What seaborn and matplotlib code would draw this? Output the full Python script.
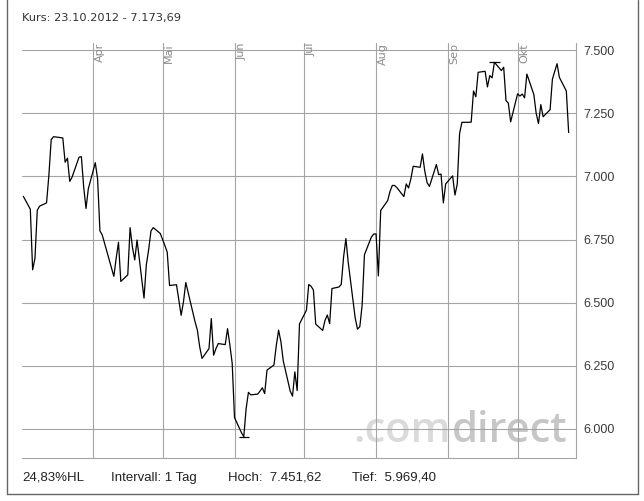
import pandas as pd
import seaborn as sns
import matplotlib.pyplot as plt
from matplotlib.lines import Line2D
from matplotlib.ticker import FuncFormatter

maerz = [6921, 6870, 6630, 6675, 6866, 6882, 6895, 7004, 7146, 7157, 7156,
         7152, 7056, 7072, 6980, 6997, 7076, 7078, 6958, 6873, 6951]
april = [7054, 6990, 6784, 6768, 6604, 6676, 6739, 6584, 6610, 6797, 6720,
         6669, 6748, 6518, 6650, 6710, 6784, 6797, 6774]
mai = [6726, 6700, 6568, 6571, 6509, 6450, 6503, 6580, 6463, 6424, 6391,
       6325, 6279, 6318, 6437, 6292, 6318, 6338, 6334, 6397, 6332, 6260]
juni = [6045, 5985, 5969.40, 6080, 6145, 6135, 6138, 6150, 6163, 6140, 6233,
        6253, 6330, 6391, 6345, 6270, 6150, 6130, 6226, 6152, 6416]
juli = [6470, 6572, 6565, 6550, 6415, 6390, 6430, 6451, 6417, 6556, 6562,
        6572, 6680, 6754, 6660, 6440, 6395, 6405, 6490, 6690, 6760, 6772]
august = [6772, 6606, 6865, 6904, 6940, 6964, 6964, 6955, 6920, 6970, 6954,
          6990, 7040, 7036, 7089, 7020, 6975, 6960, 7047, 7007, 7009, 6895, 6970]
september = [7002, 6926, 6970, 7170, 7214, 7214, 7215, 7338, 7315, 7412,
             7416, 7354, 7399, 7390, 7451.62, 7419, 7432, 7300, 7290, 7216]
oktober = [7327, 7318, 7326, 7311, 7405, 7324, 7250, 7209, 7284, 7236,
           7264, 7385, 7415, 7446, 7392, 7338, 7173.69]

feiertage = ["2012-04-06", "2012-04-09", "2012-05-01"]
handelstage = pd.bdate_range("2012-03-02", "2012-10-23").drop(pd.to_datetime(feiertage))
kurse = maerz + april + mai + juni + juli + august + september + oktober

monate = ["Apr", "Mai", "Jun", "Jul", "Aug", "Sep", "Okt"]
monatsanfang = pd.date_range("2012-04-01", periods=len(monate), freq="MS")
y_ticks = [6000, 6250, 6500, 6750, 7000, 7250, 7500]

df = pd.DataFrame({"Datum": handelstage, "Kurs": kurse})


def de(v, nd=2):
    s = f"{v:,.{nd}f}"
    return s.replace(",", "X").replace(".", ",").replace("X", ".")


sns.set_style("white")
plt.rcParams["font.family"] = ["DejaVu Sans"]

W, H = 644, 501
fig = plt.figure(figsize=(W / 100, H / 100), dpi=100)
ax = fig.add_axes([22 / W, 1 - 458 / H, (576 - 22) / W, (458 - 43) / H])

grau = "#a4a4a4"
sns.lineplot(data=df, x="Datum", y="Kurs", color="black", lw=0.9, ax=ax, zorder=3)

# Hoch / Tief Markierung
i_max = df["Kurs"].idxmax()
i_min = df["Kurs"].idxmin()
for i in (i_max, i_min):
    d = df.loc[i, "Datum"]
    ax.hlines(df.loc[i, "Kurs"], d - pd.Timedelta(days=2.2), d + pd.Timedelta(days=2.2),
              color="black", lw=0.9, zorder=3)

ax.set_xlim(pd.Timestamp("2012-03-01 10:00"), pd.Timestamp("2012-10-26 04:00"))
ax.set_ylim(5885, 7528)
ax.set_xticks(monatsanfang)
ax.set_xticklabels([])
ax.set_yticks(y_ticks)
ax.yaxis.tick_right()
ax.yaxis.set_major_formatter(FuncFormatter(lambda v, p: de(v, 3).split(",")[0]))
ax.tick_params(axis="both", length=0)
ax.tick_params(axis="y", pad=5, labelsize=9, labelcolor="#3a3a3a")
for lab in ax.get_yticklabels():
    lab.set_fontfamily("Liberation Sans")
ax.set_xlabel("")
ax.set_ylabel("")
ax.grid(True, color=grau, lw=0.8)
ax.set_axisbelow(True)
for side in ["left", "top"]:
    ax.spines[side].set_visible(False)
for side in ["right", "bottom"]:
    ax.spines[side].set_color(grau)
    ax.spines[side].set_linewidth(0.8)

for m, lab in zip(monatsanfang, monate):
    ax.annotate(lab, xy=(m, 1), xycoords=("data", "axes fraction"), xytext=(1.2, 0),
                textcoords="offset points", rotation=90, ha="left", va="top",
                fontsize=8, color="#8a8a8a")

# Wasserzeichen
ax.text(451 / W, 1 - 442 / H, ".com", transform=fig.transFigure, ha="right", va="baseline",
        fontsize=30, fontfamily="Open Sans", fontweight="semibold", color="#dadada", zorder=0.1)
ax.text(452 / W, 1 - 442 / H, "direct", transform=fig.transFigure, ha="left", va="baseline",
        fontsize=30, fontfamily="Open Sans", fontweight="semibold", color="#c6c6c6", zorder=0.1)

# Titel und Fusszeile
letzter = df.iloc[-1]
fig.text(22 / W, 1 - 18 / H, f"Kurs: {letzter['Datum']:%d.%m.%Y} - {de(letzter['Kurs'])}",
         ha="left", va="center", fontsize=8.2, color="#333333")

hoch, tief = df["Kurs"].max(), df["Kurs"].min()
fuss = dict(va="center", fontsize=9.5, color="#222222", fontfamily="Liberation Sans")
fig.text(22 / W, 1 - 478 / H, f"{de((hoch - tief) / tief * 100)}%HL", ha="left", **fuss)
fig.text(111 / W, 1 - 478 / H, "Intervall: 1 Tag", ha="left", **fuss)
fig.text(228 / W, 1 - 478 / H, f"Hoch:  {de(hoch)}", ha="left", **fuss)
fig.text(352 / W, 1 - 478 / H, f"Tief:  {de(tief)}", ha="left", **fuss)

# Rahmen
rahmen = "#666666"
fig.add_artist(Line2D([7 / W, 7 / W], [1 - 494 / H, 1], color=rahmen, lw=1, transform=fig.transFigure))
fig.add_artist(Line2D([638 / W, 638 / W], [1 - 494 / H, 1], color=rahmen, lw=1, transform=fig.transFigure))
fig.add_artist(Line2D([7 / W, 638 / W], [1 - 494 / H, 1 - 494 / H], color=rahmen, lw=1,
                      transform=fig.transFigure))

fig.savefig("out.png", dpi=100)
